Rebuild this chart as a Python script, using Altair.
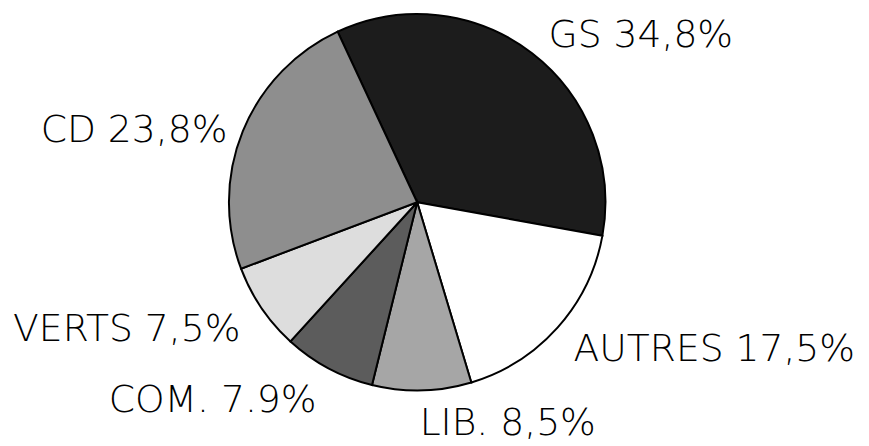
import math
import altair as alt
import pandas as pd

parties = ["GS", "AUTRES", "LIB.", "COM.", "VERTS", "CD"]
shares = [34.8, 17.5, 8.5, 7.9, 7.5, 23.8]
labels = ["GS 34,8%", "AUTRES 17,5%", "LIB. 8,5%", "COM. 7.9%", "VERTS 7,5%", "CD 23,8%"]
fills = ["#1c1c1c", "#ffffff", "#a6a6a6", "#5c5c5c", "#dddddd", "#8e8e8e"]

df = pd.DataFrame({"party": parties, "share": shares, "label": labels,
                   "order": list(range(len(parties)))})
df["mid"] = df["share"].cumsum() - df["share"] / 2

start = math.radians(-25)
theta_scale = alt.Scale(domain=[0, 100], range=[start, start + 2 * math.pi])

pie = alt.Chart(df).mark_arc(outerRadius=190, stroke="black", strokeWidth=2).encode(
    theta=alt.Theta("share:Q", stack=True, scale=theta_scale),
    order=alt.Order("order:Q"),
    color=alt.Color("party:N", scale=alt.Scale(domain=parties, range=fills), legend=None),
)

# label offsets from a base point on each slice's mid-angle (style only)
offsets = {
    "GS": (67, 38),
    "AUTRES": (106, -24),
    "LIB.": (85, -36),
    "COM.": (-84, -29),
    "VERTS": (-78, -17),
    "CD": (-45, 26),
}

texts = []
for p in parties:
    dx, dy = offsets[p]
    t = alt.Chart(df).transform_filter(alt.datum.party == p).mark_text(
        radius=260, dx=dx, dy=dy,
        font="DejaVu Sans ExtraLight, DejaVu Sans Light, DejaVu Sans",
        fontSize=38, fontWeight=200,
        color="black", align="center", baseline="middle",
    ).encode(
        theta=alt.Theta("mid:Q", stack=False, scale=theta_scale),
        text="label:N",
    )
    texts.append(t)

chart = alt.layer(pie, *texts).properties(
    width=826, height=388,
    autosize=alt.AutoSizeParams(type="none"),
    padding={"left": 0, "top": 0, "right": 35, "bottom": 50},
).configure_view(stroke=None)

chart.save("out.html", embed_options={"renderer": "svg", "actions": False})
